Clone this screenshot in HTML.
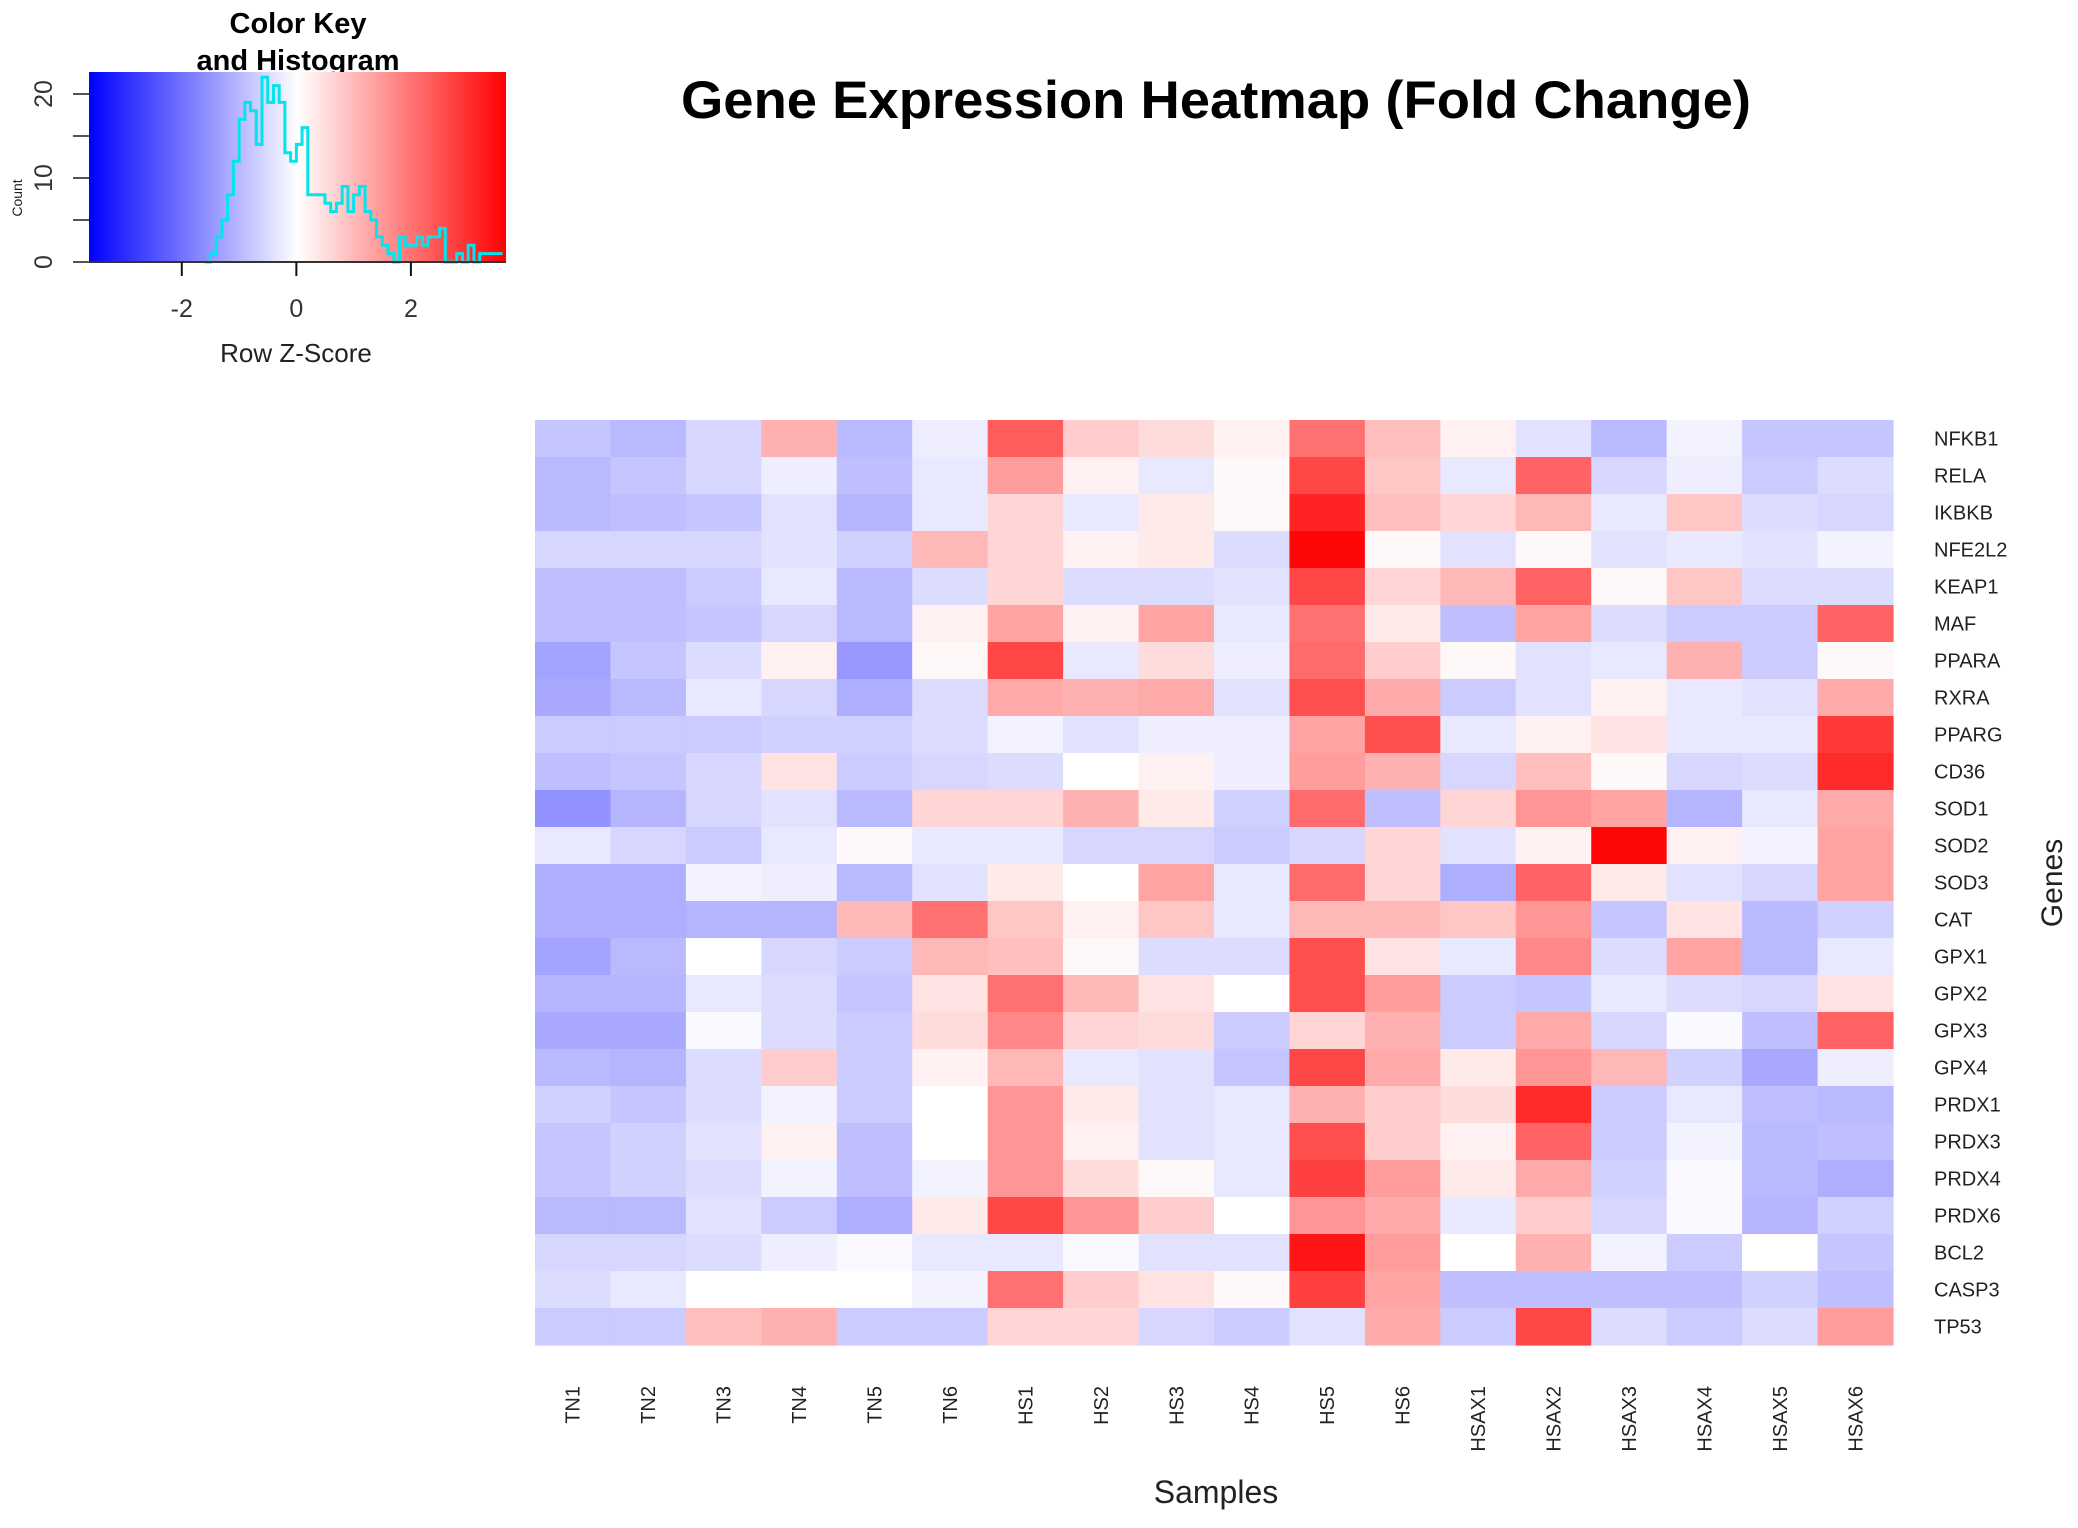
<!DOCTYPE html>
<html><head><meta charset="utf-8">
<style>
html,body{margin:0;padding:0;background:#fff;}
svg{display:block;font-family:"Liberation Sans",Arial,sans-serif;}
</style></head>
<body>
<svg id="chart" width="2078" height="1528" viewBox="0 0 2078 1528">
<defs>
<linearGradient id="keygrad" x1="0" x2="1" y1="0" y2="0">
<stop offset="0" stop-color="#0000ff"/><stop offset="0.5" stop-color="#ffffff"/><stop offset="1" stop-color="#ff0000"/>
</linearGradient>
</defs>
<text x="1216" y="118" text-anchor="middle" font-size="53" font-weight="bold" textLength="1070" lengthAdjust="spacingAndGlyphs">Gene Expression Heatmap (Fold Change)</text>
<g id="key">
<text x="298" y="33" text-anchor="middle" font-size="29" font-weight="bold">Color Key</text>
<text x="298" y="70" text-anchor="middle" font-size="29" font-weight="bold">and Histogram</text>
<rect x="89" y="72" width="417" height="190" fill="url(#keygrad)"/>
<text x="296" y="362" text-anchor="middle" font-size="26" fill="#222">Row Z-Score</text>
<text transform="translate(22,198) rotate(-90)" text-anchor="middle" font-size="14" fill="#222">Count</text>
</g>
<g id="cells"></g>
<g id="rowlabels"></g>
<g id="collabels"></g>
<text x="1216" y="1503" text-anchor="middle" font-size="32" fill="#222">Samples</text>
<text transform="translate(2062,883) rotate(-90)" text-anchor="middle" font-size="30" fill="#222">Genes</text>
</svg>
<script>
const samples = ["TN1","TN2","TN3","TN4","TN5","TN6","HS1","HS2","HS3","HS4","HS5","HS6","HSAX1","HSAX2","HSAX3","HSAX4","HSAX5","HSAX6"];
const genes = ["NFKB1","RELA","IKBKB","NFE2L2","KEAP1","MAF","PPARA","RXRA","PPARG","CD36","SOD1","SOD2","SOD3","CAT","GPX1","GPX2","GPX3","GPX4","PRDX1","PRDX3","PRDX4","PRDX6","BCL2","CASP3","TP53"];
const zNFKB1 = [-1.0,-1.2,-0.7,1.1,-1.2,-0.3,2.3,0.7,0.5,0.2,2.0,0.9,0.2,-0.5,-1.2,-0.2,-1.0,-1.0];
const zRELA = [-1.2,-1.0,-0.7,-0.3,-1.1,-0.4,1.4,0.2,-0.4,0.1,2.6,0.8,-0.4,2.2,-0.7,-0.3,-0.9,-0.6];
const zIKBKB = [-1.2,-1.1,-1.0,-0.5,-1.3,-0.4,0.6,-0.4,0.3,0.1,3.1,0.9,0.6,1.0,-0.4,0.8,-0.6,-0.7];
const zNFE2L2 = [-0.7,-0.7,-0.7,-0.5,-0.8,1.0,0.6,0.2,0.3,-0.6,3.5,0.1,-0.5,0.1,-0.5,-0.4,-0.5,-0.2];
const zKEAP1 = [-1.1,-1.1,-0.9,-0.4,-1.2,-0.6,0.6,-0.6,-0.6,-0.5,2.6,0.6,1.0,2.2,0.1,0.8,-0.6,-0.6];
const zMAF = [-1.1,-1.1,-1.0,-0.7,-1.2,0.2,1.3,0.2,1.3,-0.4,2.0,0.3,-1.1,1.3,-0.6,-0.9,-0.9,2.2];
const zPPARA = [-1.6,-1.0,-0.6,0.2,-1.8,0.1,2.6,-0.4,0.5,-0.3,2.1,0.7,0.1,-0.5,-0.4,1.1,-0.9,0.1];
const zRXRA = [-1.5,-1.2,-0.4,-0.7,-1.4,-0.6,1.2,1.1,1.2,-0.5,2.5,1.2,-0.9,-0.5,0.2,-0.4,-0.5,1.2];
const zPPARG = [-0.9,-0.9,-0.9,-0.8,-0.8,-0.6,-0.2,-0.5,-0.3,-0.3,1.3,2.5,-0.4,0.2,0.4,-0.4,-0.4,2.8];
const zCD36 = [-1.1,-1.0,-0.7,0.4,-0.9,-0.7,-0.6,0.0,0.2,-0.3,1.4,1.1,-0.7,0.9,0.1,-0.7,-0.6,3.0];
const zSOD1 = [-1.9,-1.3,-0.7,-0.5,-1.2,0.6,0.6,1.1,0.3,-0.8,2.1,-1.1,0.6,1.5,1.3,-1.3,-0.4,1.2];
const zSOD2 = [-0.4,-0.7,-0.9,-0.4,0.1,-0.4,-0.4,-0.7,-0.7,-0.9,-0.7,0.6,-0.5,0.2,3.5,0.2,-0.2,1.3];
const zSOD3 = [-1.4,-1.4,-0.2,-0.3,-1.2,-0.5,0.3,0.0,1.3,-0.4,2.1,0.6,-1.4,2.2,0.3,-0.5,-0.7,1.3];
const zCAT = [-1.4,-1.4,-1.3,-1.3,1.0,2.0,0.8,0.2,0.8,-0.4,1.0,1.0,0.8,1.5,-1.0,0.4,-1.2,-0.8];
const zGPX1 = [-1.6,-1.2,0.0,-0.7,-0.9,1.0,0.9,0.1,-0.6,-0.6,2.5,0.4,-0.4,1.7,-0.6,1.3,-1.2,-0.4];
const zGPX2 = [-1.3,-1.3,-0.4,-0.6,-1.0,0.4,2.0,1.0,0.4,0.0,2.5,1.4,-0.9,-1.0,-0.4,-0.6,-0.7,0.4];
const zGPX3 = [-1.5,-1.5,-0.1,-0.6,-0.9,0.5,1.7,0.6,0.5,-0.9,0.6,1.1,-0.9,1.2,-0.7,-0.1,-1.1,2.2];
const zGPX4 = [-1.2,-1.3,-0.6,0.7,-0.9,0.2,1.0,-0.4,-0.5,-1.0,2.6,1.2,0.3,1.5,1.0,-0.8,-1.5,-0.3];
const zPRDX1 = [-0.8,-1.0,-0.6,-0.2,-0.9,0.0,1.5,0.3,-0.5,-0.4,1.1,0.7,0.5,3.0,-0.9,-0.4,-1.1,-1.2];
const zPRDX3 = [-1.0,-0.8,-0.5,0.2,-1.1,0.0,1.5,0.2,-0.5,-0.4,2.5,0.7,0.2,2.2,-0.9,-0.2,-1.2,-1.1];
const zPRDX4 = [-1.0,-0.8,-0.6,-0.2,-1.1,-0.2,1.5,0.5,0.1,-0.4,2.7,1.4,0.3,1.2,-0.8,-0.1,-1.2,-1.4];
const zPRDX6 = [-1.2,-1.2,-0.5,-0.9,-1.4,0.3,2.6,1.5,0.7,0.0,1.5,1.2,-0.4,0.7,-0.7,-0.1,-1.3,-0.8];
const zBCL2 = [-0.7,-0.7,-0.6,-0.3,-0.1,-0.4,-0.4,-0.1,-0.5,-0.5,3.3,1.4,0.0,1.1,-0.2,-0.9,0.0,-1.0];
const zCASP3 = [-0.6,-0.4,0.0,0.0,0.0,-0.2,2.0,0.7,0.4,0.1,2.7,1.3,-1.1,-1.1,-1.1,-1.1,-0.8,-1.1];
const zTP53 = [-0.9,-0.9,0.9,1.1,-0.9,-0.9,0.6,0.6,-0.7,-0.9,-0.5,1.2,-0.9,2.6,-0.6,-0.9,-0.6,1.4];
const histBinStarts = [-1.6,-1.5,-1.4,-1.3,-1.2,-1.1,-1.0,-0.9,-0.8,-0.7,-0.6,-0.5,-0.4,-0.3,-0.2,-0.1,0.0,0.1,0.2,0.3,0.4,0.5,0.6,0.7,0.8,0.9,1.0,1.1,1.2,1.3,1.4,1.5,1.6,1.7,1.8,1.9,2.0,2.1,2.2,2.3,2.4,2.5,2.6,2.7,2.8,2.9,3.0,3.1,3.2,3.3,3.4,3.5];
const histCounts = [0,1,3,5,8,12,17,19,18,14,22,19,21,19,13,12,14,16,8,8,8,7,6,7,9,6,8,9,6,5,3,2,1,0,3,2,2,3,2,3,3,4,0,0,1,0,2,0,1,1,1,1];
const keyXTicks = [-2,0,2];
const keyYTicks = [0,5,10,15,20];
const keyYLabels = ["0","10","20"];

const matrix = [zNFKB1,zRELA,zIKBKB,zNFE2L2,zKEAP1,zMAF,zPPARA,zRXRA,zPPARG,zCD36,zSOD1,zSOD2,zSOD3,zCAT,zGPX1,zGPX2,zGPX3,zGPX4,zPRDX1,zPRDX3,zPRDX4,zPRDX6,zBCL2,zCASP3,zTP53];
const NS = "http://www.w3.org/2000/svg";
const HX0 = 535, HX1 = 1893, HY0 = 420, HY1 = 1345;
const cw = (HX1 - HX0) / samples.length, ch = (HY1 - HY0) / genes.length;
const xCol = i => HX0 + i * cw;
const yRow = j => HY0 + j * ch;
const ZMAX_POS = 3.6, ZMAX_NEG = 4.4;
function color(z){
  const t = Math.min(1, Math.abs(z) / (z < 0 ? ZMAX_NEG : ZMAX_POS));
  const c = Math.round(255 * (1 - t));
  return z < 0 ? `rgb(${c},${c},255)` : `rgb(255,${c},${c})`;
}
const cells = document.getElementById('cells');
matrix.forEach((row, j) => row.forEach((z, i) => {
  const r = document.createElementNS(NS, 'rect');
  r.setAttribute('x', xCol(i)); r.setAttribute('y', yRow(j));
  r.setAttribute('width', cw + 0.6); r.setAttribute('height', ch + 0.6);
  r.setAttribute('fill', color(z));
  
  
  cells.appendChild(r);
}));
const rl = document.getElementById('rowlabels');
genes.forEach((g, j) => {
  const t = document.createElementNS(NS, 'text');
  t.setAttribute('x', 1934); t.setAttribute('y', yRow(j) + ch / 2 + 7);
  t.setAttribute('font-size', '20'); t.setAttribute('fill', '#222');
  t.textContent = g;
  
  
  rl.appendChild(t);
});
const cl = document.getElementById('collabels');
samples.forEach((s, i) => {
  const t = document.createElementNS(NS, 'text');
  const cx = xCol(i) + cw / 2 + 7;
  t.setAttribute('transform', `translate(${cx},1386) rotate(-90)`);
  t.setAttribute('text-anchor', 'end');
  t.setAttribute('font-size', '20'); t.setAttribute('fill', '#222');
  t.textContent = s;
  
  
  cl.appendChild(t);
});
const key = document.getElementById('key');
const KX0 = 89, KX1 = 506, KZ0 = -3.62, KZ1 = 3.66, KY0 = 262, cntPx = 8.4;
const kx = z => KX0 + (z - KZ0) / (KZ1 - KZ0) * (KX1 - KX0);
const ky = c => KY0 - c * cntPx;
let d = `M${kx(histBinStarts[0])},${ky(0)}`;
histBinStarts.forEach((b, i) => {
  d += ` L${kx(b)},${ky(histCounts[i])} L${kx(b + 0.1)},${ky(histCounts[i])}`;
});
const hp = document.createElementNS(NS, 'path');
hp.setAttribute('d', d); hp.setAttribute('fill', 'none'); hp.setAttribute('stroke', '#00e5ee'); hp.setAttribute('stroke-width', '3');


key.appendChild(hp);
const ax = document.createElementNS(NS, 'line');
ax.setAttribute('x1', KX0); ax.setAttribute('x2', KX1); ax.setAttribute('y1', KY0); ax.setAttribute('y2', KY0);
ax.setAttribute('stroke', '#333'); ax.setAttribute('stroke-width', '2');


key.appendChild(ax);
keyXTicks.forEach(v => {
  const l = document.createElementNS(NS, 'line');
  l.setAttribute('x1', kx(v)); l.setAttribute('x2', kx(v)); l.setAttribute('y1', KY0); l.setAttribute('y2', KY0 + 14);
  l.setAttribute('stroke', '#111'); l.setAttribute('stroke-width', '2');
  
  
  key.appendChild(l);
  const t = document.createElementNS(NS, 'text');
  t.setAttribute('x', kx(v)); t.setAttribute('y', 317); t.setAttribute('text-anchor', 'middle');
  t.setAttribute('font-size', '25'); t.setAttribute('fill', '#333');
  t.textContent = String(v);
  
  
  key.appendChild(t);
});
keyYTicks.forEach(v => {
  const l = document.createElementNS(NS, 'line');
  l.setAttribute('x1', 73); l.setAttribute('x2', 89); l.setAttribute('y1', ky(v)); l.setAttribute('y2', ky(v));
  l.setAttribute('stroke', '#555'); l.setAttribute('stroke-width', '2');
  
  
  key.appendChild(l);
});
keyYLabels.forEach(s => {
  const t = document.createElementNS(NS, 'text');
  t.setAttribute('transform', `translate(52,${ky(+s)}) rotate(-90)`);
  t.setAttribute('text-anchor', 'middle'); t.setAttribute('font-size', '25'); t.setAttribute('fill', '#333');
  t.textContent = s;
  
  
  key.appendChild(t);
});
</script>
</body></html>
